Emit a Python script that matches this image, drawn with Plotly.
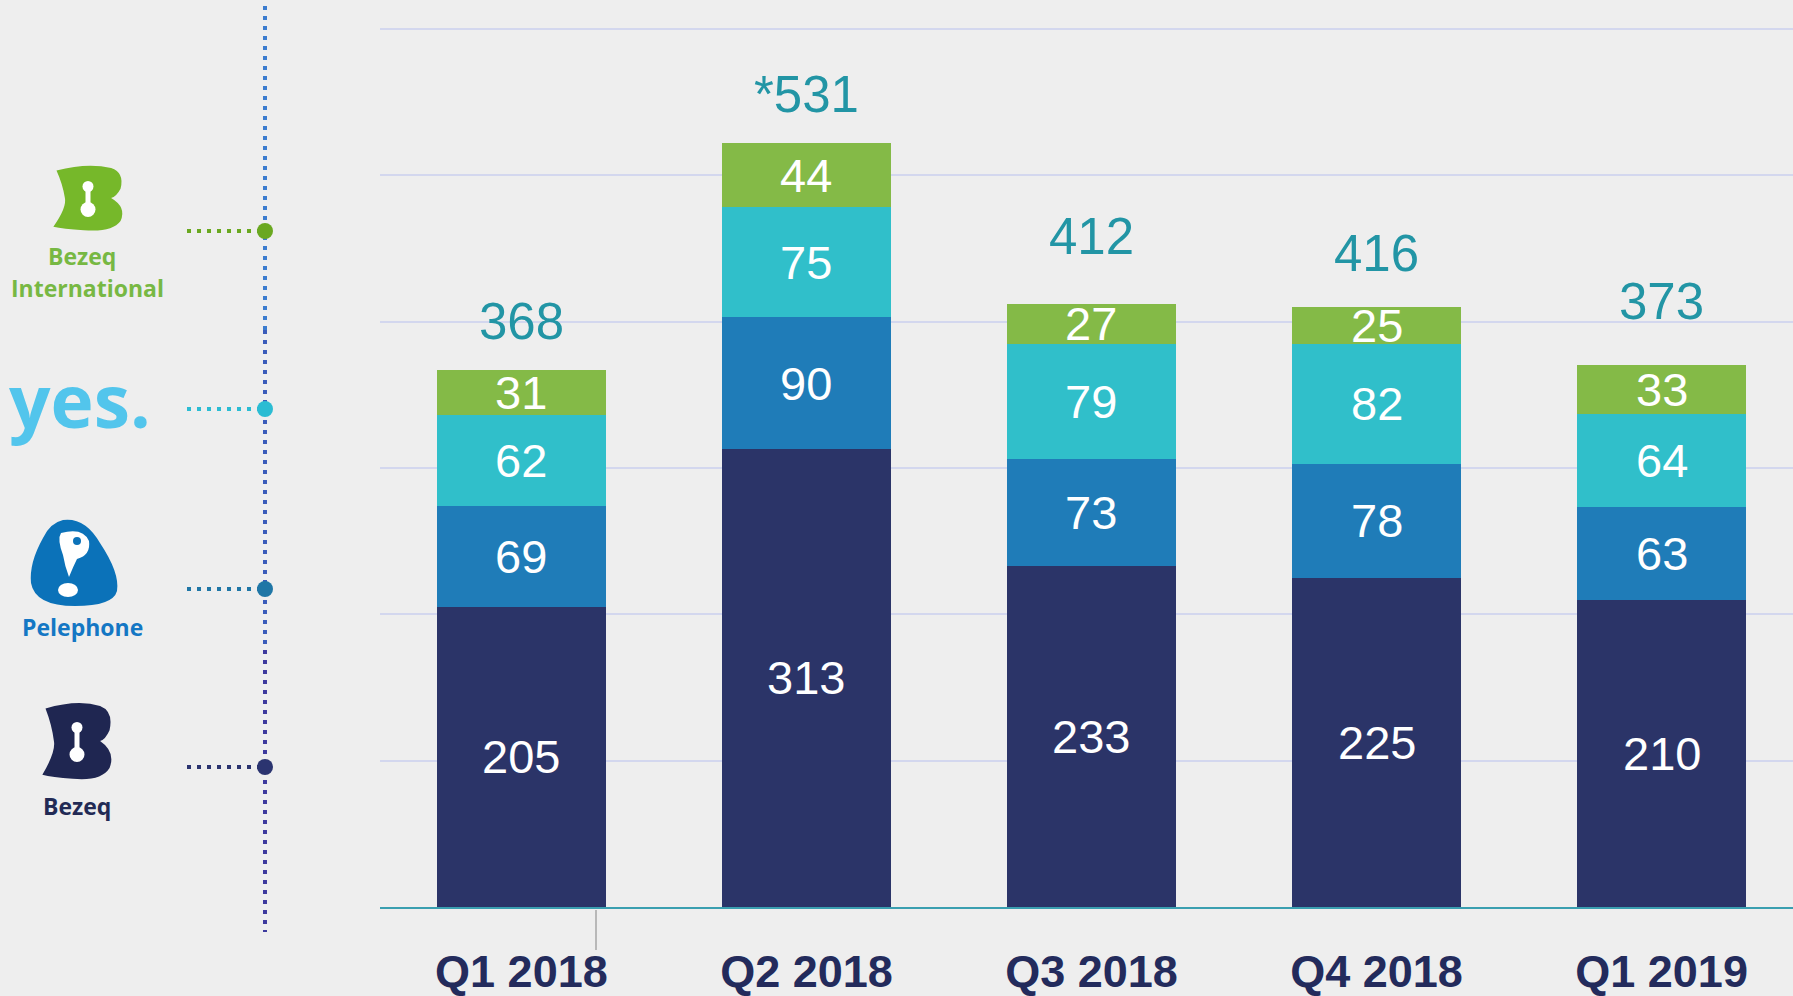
import plotly.graph_objects as go

# ---- data ----
quarters = ["Q1 2018", "Q2 2018", "Q3 2018", "Q4 2018", "Q1 2019"]
bezeq = [205, 313, 233, 225, 210]
pelephone = [69, 90, 73, 78, 63]
yes_tv = [62, 75, 79, 82, 64]
bezeq_intl = [31, 44, 27, 25, 33]
total_labels = ["368", "*531", "412", "416", "373"]

series = [
    ("Bezeq", bezeq, "#2b3468"),
    ("Pelephone", pelephone, "#1f7cb8"),
    ("yes", yes_tv, "#30bfca"),
    ("Bezeq International", bezeq_intl, "#84ba47"),
]

# extra lift (px) of each total label above its bar, as in the slide
total_lift = [18, 18, 37, 23, 33]

W, H = 1793, 996
L, B = 380, 89
PW, PH = W - L, H - B

def px(x):
    return (x - L) / PW

def py(y):
    return (PH - y) / PH

NUM_FONT = "Liberation Sans, Arial, sans-serif"

fig = go.Figure()
for name, vals, col in series:
    fig.add_trace(go.Bar(
        x=quarters, y=vals, name=name, width=0.594,
        marker=dict(color=col, line=dict(width=0)),
        hoverinfo="x+y+name",
    ))

annotations = []
shapes = []
# segment labels
for i, q in enumerate(quarters):
    base = 0
    for name, vals, col in series:
        v = vals[i]
        annotations.append(dict(
            x=q, y=base + v / 2, xref="x", yref="y", text=str(v),
            showarrow=False, font=dict(family=NUM_FONT, size=47, color="white"),
            xanchor="center", yanchor="middle",
        ))
        base += v
    annotations.append(dict(
        x=q, y=base, xref="x", yref="y", text=total_labels[i],
        showarrow=False, font=dict(family=NUM_FONT, size=51, color="#2295a5"),
        xanchor="center", yanchor="bottom", yshift=total_lift[i],
    ))

# ---- left legend decorations ----
def dotted(x0, y0, x1, y1, color, w=4):
    shapes.append(dict(type="line", xref="paper", yref="paper",
                       x0=px(x0), y0=py(y0), x1=px(x1), y1=py(y1),
                       line=dict(color=color, width=w, dash="4px,6px")))

def circle(cx, cy, rx, color, ry=None):
    ry = rx if ry is None else ry
    shapes.append(dict(type="circle", xref="paper", yref="paper",
                       x0=px(cx - rx), x1=px(cx + rx), y0=py(cy - ry), y1=py(cy + ry),
                       fillcolor=color, line=dict(width=0)))

def path(points_cmds, color):
    s = ""
    for cmd, pts in points_cmds:
        s += cmd + " " + " ".join(f"{px(a):.5f},{py(b):.5f}" for a, b in pts) + " "
    s += "Z"
    shapes.append(dict(type="path", xref="paper", yref="paper", path=s,
                       fillcolor=color, line=dict(width=0)))

# vertical dotted line (colour shifts from blue to purple)
dotted(265, 6, 265, 330, "#3b7ccf")
dotted(265, 330, 265, 650, "#3a5cba")
dotted(265, 650, 265, 932, "#3d3a9e")

legend_rows = [
    (231, "#6aa820"),
    (409, "#2bbcd3"),
    (589, "#1f76a6"),
    (767, "#2b3470"),
]
for y, col in legend_rows:
    dotted(187, y, 258, y, col)
    circle(265, y, 8, col)

# small grey tick mark below the axis
shapes.append(dict(type="line", xref="paper", yref="paper",
                   x0=px(596), x1=px(596), y0=py(910), y1=py(950),
                   line=dict(color="#b8b8b8", width=2)))

def b_logo(cx, cy, col, sx=1.0, sy=1.0):
    def p(dx, dy):
        return (cx + dx * sx, cy + dy * sy)
    path([
        ("M", [p(-30, -24)]),
        ("Q", [p(0, -31), p(22, -26)]),
        ("Q", [p(35, -22), p(31, -8)]),
        ("Q", [p(27, -1), p(22, 0)]),
        ("Q", [p(37, 8), p(31, 20)]),
        ("Q", [p(23, 30), p(-4, 28)]),
        ("Q", [p(-24, 27), p(-33, 25)]),
        ("Q", [p(-20, 8), p(-22, 0)]),
        ("Q", [p(-24, -12), p(-30, -24)]),
    ], col)
    circle(cx, cy - 10 * sy, 5.5, "white")
    circle(cx, cy + 10 * sy, 7.5, "white")
    shapes.append(dict(type="rect", xref="paper", yref="paper",
                       x0=px(cx - 2.5), x1=px(cx + 2.5), y0=py(cy - 10 * sy), y1=py(cy + 10 * sy),
                       fillcolor="white", line=dict(width=0)))

b_logo(88, 198, "#76b82a", 1.05, 1.15)
b_logo(77, 741, "#1f2651", 1.05, 1.35)

# pelephone blob
cx, cy = 75, 563
def q(dx, dy):
    return (cx + dx, cy + dy)
path([
    ("M", [q(-12, -43)]),
    ("Q", [q(10, -46), q(25, -20)]),
    ("Q", [q(45, 10), q(42, 28)]),
    ("Q", [q(38, 43), q(0, 43)]),
    ("Q", [q(-40, 43), q(-44, 20)]),
    ("Q", [q(-46, 0), q(-32, -25)]),
    ("Q", [q(-25, -40), q(-12, -43)]),
], "#0b72b9")
path([
    ("M", [q(-14, -30)]),
    ("Q", [q(8, -36), q(14, -22)]),
    ("Q", [q(16, -8), q(2, -4)]),
    ("Q", [q(-2, 4), q(-6, 14)]),
    ("Q", [q(-10, 4), q(-12, -8)]),
    ("Q", [q(-18, -24), q(-14, -30)]),
], "white")
circle(cx + 2, cy - 22, 4, "#0b72b9")
circle(cx - 7, cy + 27, 10, "white", 7)

LOGO_FONT = "Open Sans, Noto Sans, sans-serif"
legend_texts = [
    ("<b>Bezeq</b>", 82, 256, 23, "#77b843"),
    ("<b>International</b>", 87, 288, 23, "#77b843"),
    ("<b>yes.</b>", 80, 399, 73, "#52c5ec"),
    ("<b>Pelephone</b>", 82, 627, 23, "#1477c4"),
    ("<b>Bezeq</b>", 77, 806, 23, "#222a55"),
]
for t, x, y, s, c in legend_texts:
    annotations.append(dict(x=px(x), y=py(y), xref="paper", yref="paper", text=t,
                            showarrow=False, font=dict(family=LOGO_FONT, size=s, color=c),
                            xanchor="center", yanchor="middle"))

fig.update_layout(
    width=W, height=H,
    autosize=False,
    barmode="stack",
    showlegend=False,
    margin=dict(l=L, r=0, t=0, b=B, pad=0),
    paper_bgcolor="#eeeeee",
    plot_bgcolor="#eeeeee",
    annotations=annotations,
    shapes=shapes,
    xaxis=dict(
        range=[-0.496, 4.461], showgrid=False, zeroline=False, automargin=False,
        showline=True, linecolor="#3a9fb0", linewidth=2,
        ticks="", ticklabelstandoff=24,
        tickfont=dict(family=NUM_FONT, size=45, color="#232b5c", weight="bold"),
    ),
    yaxis=dict(
        range=[0, 619.7], showgrid=True, gridcolor="#d3d7ee", gridwidth=1.5,
        dtick=100, tick0=0, zeroline=False, showticklabels=False, showline=False,
        automargin=False,
    ),
)

fig.write_html(
    "out.html",
    config={"displayModeBar": False},
    post_script="document.body.style.margin='0px';document.body.style.background='#eeeeee';",
)
